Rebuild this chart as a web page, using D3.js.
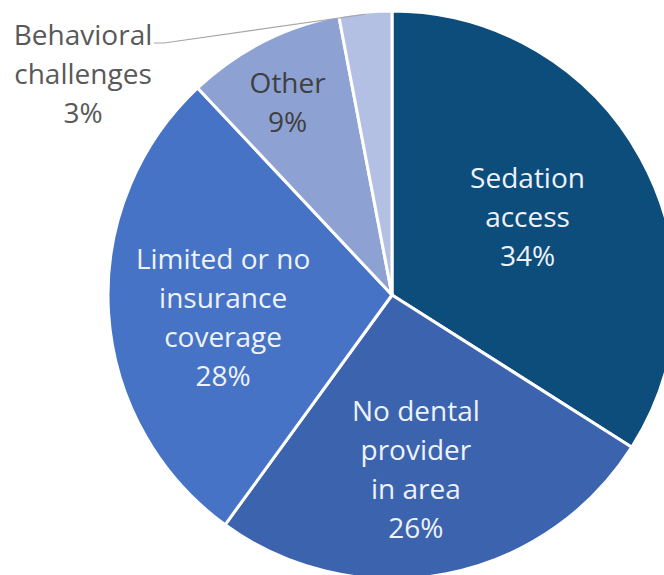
<!DOCTYPE html>
<html>
<head>
<meta charset="utf-8">
<script src="https://cdn.jsdelivr.net/npm/d3@7"></script>
<style>
  html, body { margin: 0; padding: 0; background: #ffffff; }
  svg { display: block; }
  text { font-family: "Open Sans", Lato, sans-serif; }
</style>
</head>
<body>
<svg id="chart" width="664" height="575"></svg>
<script>
// Barriers to dental care, share of responses
const categories = ["Sedation access", "No dental provider in area", "Limited or no insurance coverage", "Other", "Behavioral challenges"];
const labelLines = [["Sedation", "access"], ["No dental", "provider", "in area"], ["Limited or no", "insurance", "coverage"], ["Other"], ["Behavioral", "challenges"]];
const values = [34, 26, 28, 9, 3];
const colors = ["#0d4d7b", "#3b63ae", "#4673c5", "#8da2d3", "#b3bfe3"];

const svg = d3.select("#chart");
const cx = 392, cy = 295, R = 284;
const g = svg.append("g").attr("transform", `translate(${cx},${cy})`);

const pie = d3.pie().sort(null).value(d => d.value);
const data = categories.map((c, i) => ({ name: c, lines: labelLines[i], value: values[i], color: colors[i] }));
const arcs = pie(data);

const arc = d3.arc().innerRadius(0).outerRadius(R);

g.selectAll("path.slice")
  .data(arcs)
  .join("path")
  .attr("class", "slice")
  .attr("d", arc)
  .attr("fill", d => d.data.color)
  .attr("stroke", "#ffffff")
  .attr("stroke-width", 3)
  .attr("stroke-linejoin", "round");

// label placement: radius fraction and angular nudge (degrees) per slice
const place = [
  { k: 0.55, da: -1, inside: true },
  { k: 0.62, da: 3, inside: true },
  { k: 0.60, da: -4, inside: true },
  { k: 0.77, da: -1.5, inside: true },
  { inside: false }
];

const lineH = 39;
const fontSize = 28;

arcs.forEach((d, i) => {
  const p = place[i];
  const lines = d.data.lines.concat([d.data.value + "%"]);
  let x, y, fill;
  if (p.inside) {
    const a = (d.startAngle + d.endAngle) / 2 + p.da * Math.PI / 180;
    const r = p.k * R;
    x = r * Math.sin(a);
    y = -r * Math.cos(a);
    fill = i === 3 ? "#404040" : "#eef2fa";
  } else {
    // outside label with leader line to the slice edge
    x = 83 - cx;
    y = 74 - cy;
    fill = "#595959";
    const a = (d.startAngle + d.endAngle) / 2;
    const ex = (R - 2) * Math.sin(a), ey = -(R - 2) * Math.cos(a);
    g.append("polyline")
      .attr("points", `${x + 71},${y - 31} ${x + 81},${y - 31} ${ex},${ey}`)
      .attr("fill", "none")
      .attr("stroke", "#a6a6a6")
      .attr("stroke-width", 1.2);
  }
  const t = g.append("text")
    .attr("text-anchor", "middle")
    .attr("fill", fill)
    .attr("font-size", fontSize);
  const y0 = y - (lines.length - 1) * lineH / 2;
  lines.forEach((ln, j) => {
    t.append("tspan")
      .attr("x", x)
      .attr("y", y0 + j * lineH)
      .attr("dy", "0.36em")
      .text(ln);
  });
});
</script>
</body>
</html>
